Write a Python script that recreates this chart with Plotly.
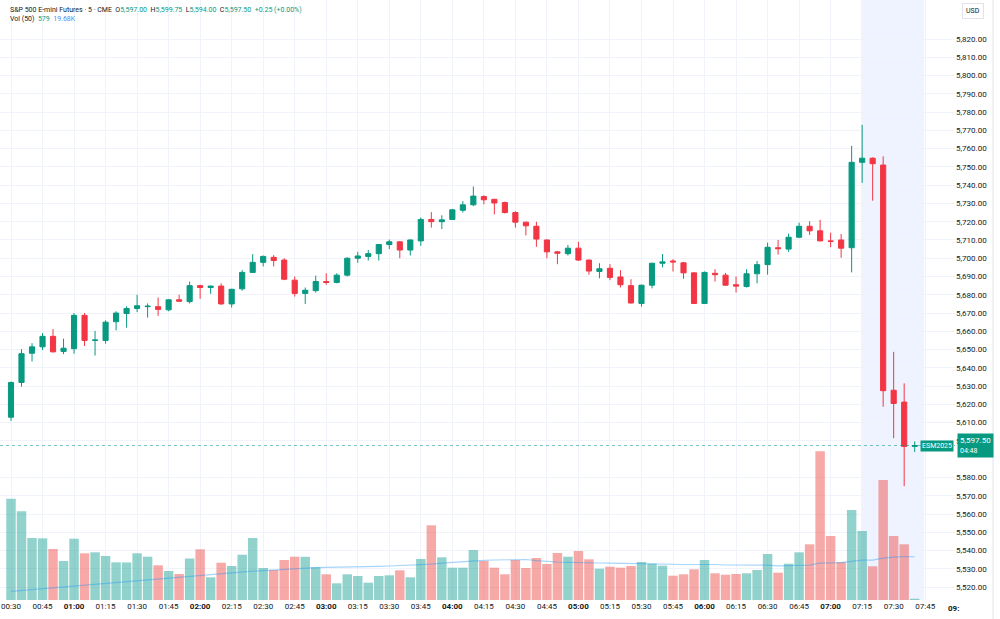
import plotly.graph_objects as go

# ---------------- data ----------------
opens = [5613, 5632, 5648, 5651.5, 5657.25, 5649, 5650.5, 5668.75, 5655, 5655,
         5665.25, 5669.75, 5672.5, 5673.5, 5673.5, 5671.75, 5677.25, 5676.25, 5685, 5684,
         5684.75, 5675, 5683.25, 5692.25, 5697.75, 5700.5, 5699, 5688, 5680.75, 5682.25,
         5687.25, 5686.75, 5690.75, 5700, 5701, 5702.5, 5707.5, 5709, 5704.5, 5709.5,
         5721.25, 5720, 5721.25, 5726.25, 5729.25, 5733.75, 5732.25, 5730.5, 5725, 5719.75,
         5717.5, 5710, 5703.5, 5702.5, 5705.5, 5699, 5692.75, 5694.5, 5689.75, 5685,
         5675.25, 5685.25, 5697.25, 5698.5, 5697.5, 5692, 5675.25, 5691.75, 5690.75, 5685.5,
         5684.5, 5691.5, 5696.5, 5705.75, 5705, 5711.5, 5717.5, 5715, 5709.5, 5710,
         5705.75, 5752.5, 5754.75, 5751, 5627.75, 5621.25, 5597]
highs = [5632.5, 5650.25, 5653.5, 5659, 5661.25, 5656, 5670, 5670, 5660.25, 5666,
         5671, 5673.75, 5680, 5675.25, 5678.5, 5677.5, 5680, 5687.25, 5685.5, 5685,
         5686.25, 5683.25, 5693.5, 5702.25, 5701.5, 5701.75, 5700, 5690, 5684, 5690.5,
         5691.75, 5691.75, 5700.5, 5703.5, 5704.5, 5707.75, 5710.25, 5709.25, 5710.25, 5722.25,
         5725.25, 5723.5, 5727, 5731.25, 5739.25, 5734.5, 5732.5, 5731, 5725.75, 5720,
         5720, 5710.25, 5704, 5707.25, 5709, 5699.25, 5697.25, 5696.75, 5693.5, 5688.5,
         5685.5, 5697.5, 5702.25, 5699.5, 5698, 5692.25, 5692.75, 5694, 5692, 5690,
         5694, 5698.5, 5708.5, 5710, 5713.5, 5719.5, 5720.25, 5721, 5714, 5713.25,
         5761.5, 5773, 5755.25, 5755.75, 5648.75, 5631.5, 5599.75]
lows = [5611, 5629.75, 5643.5, 5649.75, 5648.5, 5647.5, 5647.75, 5652, 5646.75, 5653.25,
        5660.5, 5662, 5670.5, 5667.5, 5668.5, 5671, 5676, 5675.25, 5677.75, 5680.5,
        5674.5, 5673, 5682.25, 5692, 5695.5, 5695.5, 5688, 5679, 5675, 5681.25,
        5685.5, 5686.25, 5690, 5697.5, 5698.75, 5698.75, 5705, 5700, 5701.5, 5706.75,
        5716.75, 5716, 5721, 5725, 5728.5, 5729.5, 5724, 5724.5, 5716.75, 5712.5,
        5706.25, 5700, 5696.75, 5701.5, 5698.5, 5691, 5689, 5688, 5684, 5675.25,
        5673.5, 5683.5, 5695, 5692.75, 5688.75, 5675, 5675, 5687.25, 5685, 5681.25,
        5684, 5686.25, 5691, 5702, 5703.5, 5711, 5712.75, 5709.25, 5706, 5700.25,
        5692.25, 5741.25, 5731.5, 5618.75, 5601.5, 5575.25, 5594]
closes = [5632, 5647.75, 5651.5, 5657.25, 5648.75, 5650.75, 5668.75, 5655, 5655.25, 5665,
          5670, 5672.5, 5674, 5673.75, 5672, 5677.25, 5676.5, 5685, 5684, 5684.75,
          5675, 5683, 5692.25, 5697.75, 5701, 5698.75, 5688.5, 5680.75, 5682.5, 5687.25,
          5686.75, 5690.75, 5700, 5701.25, 5702.5, 5707.5, 5709, 5704.5, 5710, 5721.25,
          5720, 5721, 5726.5, 5729.25, 5734, 5732, 5730.25, 5725, 5719.75, 5717.75,
          5710.5, 5703.5, 5702.75, 5705.5, 5699, 5693, 5694.25, 5689.5, 5685.5, 5675.5,
          5685.25, 5697.25, 5698, 5698, 5692, 5675.25, 5692.25, 5691, 5685.25, 5684.75,
          5691.5, 5696.5, 5706, 5705.25, 5711.5, 5717.5, 5715, 5709.5, 5709.25, 5705.5,
          5752.5, 5754.75, 5751.75, 5627.5, 5620.5, 5597, 5597.5]
volumes = [46090, 40360, 28210, 28050, 23210, 17750, 27890, 21250, 21700, 20020,
           17150, 17100, 21250, 19700, 15790, 13200, 11830, 18880, 23070, 10330,
           16970, 15470, 20610, 28210, 14560, 13650, 18200, 19700, 19650, 14880,
           11690, 7600, 11690, 10920, 7870, 10920, 11240, 13510, 10330, 18660,
           33990, 19430, 14700, 14700, 22750, 17750, 14700, 11690, 18200, 14560,
           19110, 16380, 21390, 19700, 22300, 18520, 14240, 15150, 14700, 15470,
           17290, 16520, 15610, 11060, 11690, 13970, 18200, 12150, 11510, 11830,
           12150, 13650, 20930, 12420, 16520, 21700, 25340, 67660, 29120, 17290,
           40950, 31400, 15330, 54600, 29120, 25340, 579]
vol_ma = [3910, 4320, 4690, 5100, 5510, 5870, 6280, 6690, 7050, 7460,
          7870, 8240, 8650, 9010, 9420, 9830, 10190, 10600, 11010, 11420,
          11830, 12290, 12690, 13100, 13380, 13700, 13970, 14240, 14560, 14740,
          14830, 14880, 14970, 15060, 15150, 15330, 15470, 15650, 15830, 15970,
          16330, 16740, 17110, 17520, 17930, 18060, 18200, 18340, 18470, 18430,
          17880, 17430, 17290, 17110, 17110, 17110, 16840, 16740, 16610, 16520,
          16520, 16520, 16380, 16200, 16150, 16150, 16290, 16150, 15930, 15970,
          15880, 15830, 15830, 15520, 15560, 15700, 15830, 16790, 16970, 17020,
          17610, 18110, 18150, 19020, 19470, 19750, 19680]

tick_labels = ["00:30", "00:45", "01:00", "01:15", "01:30", "01:45", "02:00", "02:15",
               "02:30", "02:45", "03:00", "03:15", "03:30", "03:45", "04:00", "04:15",
               "04:30", "04:45", "05:00", "05:15", "05:30", "05:45", "06:00", "06:15",
               "06:30", "06:45", "07:00", "07:15", "07:30", "07:45"]
price_ticks = [p for p in range(5520, 5821, 10) if p != 5590]
last_price = 5597.5

# ---------------- styling ----------------
UP = "#089981"
DOWN = "#f23645"
VOL_UP = "rgba(38,166,154,0.5)"
VOL_DOWN = "rgba(239,83,80,0.5)"
FONT = "Roboto"
TXT = "#131722"
GRID = "#f0f3fa"

n = len(opens)
x = list(range(n))
vol_colors = [VOL_UP if c >= o else VOL_DOWN for o, c in zip(opens, closes)]

fig = go.Figure()
fig.add_trace(go.Bar(
    x=x, y=volumes, yaxis="y2", marker=dict(color=vol_colors, line=dict(width=0)),
    width=0.9, hoverinfo="skip", showlegend=False))
fig.add_trace(go.Scatter(
    x=x, y=vol_ma, yaxis="y2", mode="lines",
    line=dict(color="rgba(33,150,243,0.4)", width=1.2),
    hoverinfo="skip", showlegend=False))
fig.add_trace(go.Candlestick(
    x=x, open=opens, high=highs, low=lows, close=closes,
    increasing=dict(line=dict(color=UP, width=1), fillcolor=UP),
    decreasing=dict(line=dict(color=DOWN, width=1), fillcolor=DOWN),
    whiskerwidth=0, hoverinfo="skip", showlegend=False))

tickvals = [3 * k for k in range(len(tick_labels))]
ticktext = [f"<b>{t}</b>" if t.endswith(":00") else t for t in tick_labels]

plot_w, plot_h = 955, 600
px_per_bar = 10.508
x0 = -11 / px_per_bar
x1 = x0 + plot_w / px_per_bar
y_per_px = 1 / 1.827
y_top = 5820 + 39 * y_per_px
y_bot = y_top - plot_h * y_per_px

fig.update_layout(
    width=1000, height=619,
    margin=dict(l=0, r=1000 - plot_w, t=0, b=619 - plot_h),
    paper_bgcolor="white", plot_bgcolor="white",
    font=dict(family=FONT, color=TXT, size=8),
    hovermode=False, showlegend=False, boxgap=0.3,
    xaxis=dict(range=[x0, x1], tickvals=tickvals, ticktext=ticktext,
               showgrid=True, gridcolor=GRID, gridwidth=1, zeroline=False,
               showline=False, ticks="", tickfont=dict(size=8, color=TXT),
               rangeslider=dict(visible=False), fixedrange=True),
    yaxis=dict(range=[y_bot, y_top], side="right", tickvals=price_ticks,
               tickformat=",.2f", showgrid=True, gridcolor=GRID, zeroline=False,
               showline=False, ticks="", ticklen=0, tickfont=dict(size=8, color=TXT)),
    yaxis2=dict(range=[0, 273000], overlaying="y", visible=False, fixedrange=True),
)

fig.add_shape(type="rect", xref="x", yref="paper", x0=80.9, x1=86.9, y0=0, y1=1,
              fillcolor="rgba(41,98,255,0.08)", line=dict(width=0), layer="below")
fig.add_shape(type="line", xref="paper", yref="y", x0=0, x1=1, y0=last_price, y1=last_price,
              line=dict(color="rgba(8,153,129,0.55)", width=1, dash="dot"), layer="above")
fig.add_shape(type="line", xref="paper", yref="paper", x0=993 / plot_w, x1=993 / plot_w,
              y0=-19 / plot_h, y1=1, line=dict(color="#e0e3eb", width=1))

SP = "&#160;"
teal = lambda s: f'<span style="color:{UP}">{s}</span>'
header1 = (f"S&amp;P 500 E-mini Futures · 5 · CME{SP}{SP}"
           f"O{teal('5,597.00')}{SP}{SP}H{teal('5,599.75')}{SP}{SP}L{teal('5,594.00')}{SP}{SP}"
           f"C{teal('5,597.50')}{SP}{SP}{teal('+0.25 (+0.00%)')}")
header2 = f'Vol (50){SP}{SP}{teal("579")}{SP}{SP}<span style="color:#4f8ff7">19.68K</span>'
fig.add_annotation(xref="paper", yref="paper", x=8 / plot_w, y=1 - 9.5 / plot_h,
                   xanchor="left", yanchor="middle", text=header1, showarrow=False,
                   font=dict(size=7, color=TXT, family=FONT))
fig.add_annotation(xref="paper", yref="paper", x=8 / plot_w, y=1 - 19.5 / plot_h,
                   xanchor="left", yanchor="middle", text=header2, showarrow=False,
                   font=dict(size=7, color=TXT, family=FONT))
fig.add_annotation(xref="paper", yref="paper", x=973 / plot_w, y=1 - 11 / plot_h,
                   xanchor="center", yanchor="middle", text="USD", showarrow=False,
                   font=dict(size=7, color=TXT, family=FONT),
                   bgcolor="white", bordercolor="#e0e3eb", borderwidth=1, borderpad=3)
fig.add_annotation(xref="paper", yref="y", x=957 / plot_w, y=last_price,
                   xanchor="left", yanchor="middle",
                   text="5,597.50<br><span style='font-size:7px'>04:48</span>",
                   showarrow=False, align="left",
                   font=dict(size=8, color="white", family=FONT),
                   bgcolor=UP, borderpad=2)
fig.add_annotation(xref="paper", yref="y", x=954 / plot_w, y=last_price,
                   xanchor="right", yanchor="middle", text="ESM2025", showarrow=False,
                   font=dict(size=7, color="white", family=FONT), bgcolor=UP, borderpad=1)
fig.add_annotation(xref="paper", yref="paper", x=946 / plot_w, y=-8 / plot_h,
                   xanchor="left", yanchor="middle", text="<b>09:</b>", showarrow=False,
                   font=dict(size=8, color=TXT, family=FONT))

fig.write_html("out.html")
